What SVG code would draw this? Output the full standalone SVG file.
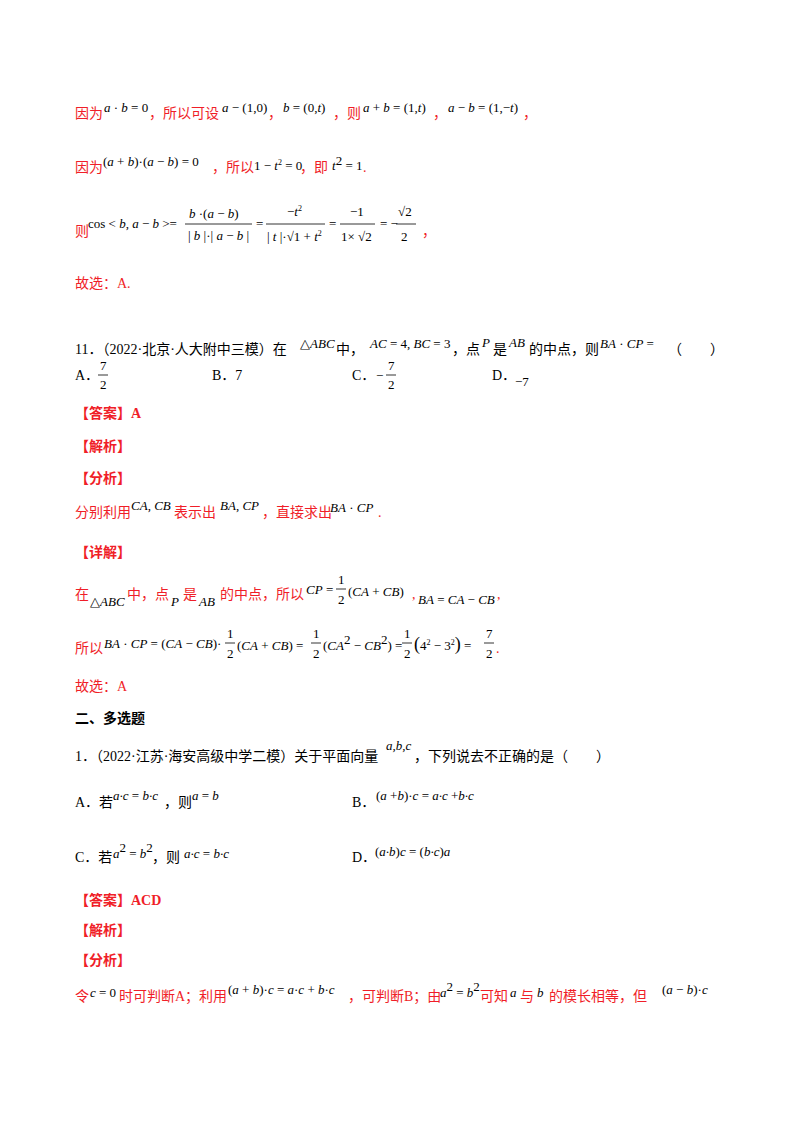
<svg xmlns="http://www.w3.org/2000/svg" width="800" height="1132" viewBox="0 0 800 1132">
<style>
.r{fill:#f01e28;font-family:"Liberation Serif","Noto Sans CJK SC",serif;font-size:14px}
.k{fill:#000;font-family:"Liberation Serif","Noto Sans CJK SC",serif;font-size:14px}
.m{fill:#000;font-family:"Liberation Serif",serif;font-size:13px;font-style:italic}
.n{fill:#000;font-family:"Liberation Serif",serif;font-size:13px;font-style:normal}
.b{font-weight:bold}
line{stroke:#000;stroke-width:0.8}
</style>
<rect width="800" height="1132" fill="#fff"/>
<g id="l1">
<text x="75" y="118" class="r">因为</text>
<text x="104" y="112" class="m">a<tspan class="n"> · </tspan>b<tspan class="n"> = 0</tspan></text>
<text x="149" y="118" class="r">，所以可设</text>
<text x="222" y="112" class="m">a<tspan class="n"> − (1,0)</tspan></text>
<text x="268" y="118" class="r">，</text>
<text x="283" y="112" class="m">b<tspan class="n"> = (0,</tspan>t<tspan class="n">)</tspan></text>
<text x="333" y="118" class="r">，则</text>
<text x="363" y="112" class="m">a<tspan class="n"> + </tspan>b<tspan class="n"> = (1,</tspan>t<tspan class="n">)</tspan></text>
<text x="433" y="118" class="r">，</text>
<text x="448" y="112" class="m">a<tspan class="n"> − </tspan>b<tspan class="n"> = (1,−</tspan>t<tspan class="n">)</tspan></text>
<text x="523" y="118" class="r">，</text>
</g>
<g id="l2">
<text x="75" y="172" class="r">因为</text>
<text x="103" y="166" class="m"><tspan class="n" font-size="17">(</tspan>a<tspan class="n"> + </tspan>b<tspan class="n" font-size="17">)</tspan><tspan class="n">·</tspan><tspan class="n" font-size="17">(</tspan>a<tspan class="n"> − </tspan>b<tspan class="n" font-size="17">)</tspan><tspan class="n"> = 0</tspan></text>
<text x="212" y="172" class="r">，所以</text>
<text x="254" y="170" class="n">1 − <tspan class="m">t</tspan><tspan font-size="8" dy="-5">2</tspan><tspan dy="5"> = 0</tspan></text>
<text x="300" y="172" class="r">，即</text>
<text x="332" y="170" class="m">t<tspan class="n" font-size="8" dy="-5">2</tspan><tspan class="n" dy="5"> = 1</tspan></text>
<text x="363" y="172" class="r">.</text>
</g>
<g id="l3">
<text x="75" y="236" class="r">则</text>
<text x="88" y="228" class="n">cos &lt; <tspan class="m">b</tspan>, <tspan class="m">a</tspan> − <tspan class="m">b</tspan> &gt;=</text>
<text x="189" y="218" class="m">b<tspan class="n"> ·(</tspan>a<tspan class="n"> − </tspan>b<tspan class="n">)</tspan></text>
<line x1="185" y1="224" x2="252" y2="224"/>
<text x="188" y="240" class="n">| <tspan class="m">b</tspan> |·| <tspan class="m">a</tspan> − <tspan class="m">b</tspan> |</text>
<text x="256" y="228" class="n">=</text>
<text x="287" y="216" class="n">−<tspan class="m">t</tspan><tspan font-size="8" dy="-5">2</tspan></text>
<line x1="266" y1="224" x2="325" y2="224"/>
<text x="267" y="241" class="n">| <tspan class="m">t</tspan> |·√1 + <tspan class="m">t</tspan><tspan font-size="8" dy="-5">2</tspan></text>
<text x="329" y="228" class="n">=</text>
<text x="350" y="216" class="n">−1</text>
<line x1="340" y1="224" x2="375" y2="224"/>
<text x="341" y="241" class="n">1× √2</text>
<text x="380" y="228" class="n">= −</text>
<text x="398" y="216" class="n">√2</text>
<line x1="396" y1="224" x2="416" y2="224"/>
<text x="401" y="241" class="n">2</text>
<text x="422" y="236" class="r">，</text>
</g>
<text x="75" y="288" class="r">故选：A.</text>
<g id="q11">
<text x="75" y="354" class="k">11．（2022·北京·人大附中三模）在</text>
<text x="300" y="348" class="m"><tspan class="n" font-size="8">△</tspan>ABC</text>
<text x="336" y="354" class="k">中，</text>
<text x="370" y="348" class="m">AC<tspan class="n"> = 4, </tspan>BC<tspan class="n"> = 3</tspan></text>
<text x="452" y="354" class="k">，点</text>
<text x="482" y="347" class="m">P</text>
<text x="493" y="354" class="k">是</text>
<text x="509" y="347" class="m">AB</text>
<text x="529" y="354" class="k">的中点，则</text>
<text x="600" y="348" class="m">BA<tspan class="n"> · </tspan>CP<tspan class="n"> =</tspan></text>
<text x="668" y="354" class="k">（　　）</text>
<text x="75" y="380" class="k">A．</text>
<text x="100" y="370" class="n">7</text><line x1="98" y1="375" x2="108" y2="375"/><text x="100" y="389" class="n">2</text>
<text x="212" y="380" class="k">B．7</text>
<text x="352" y="380" class="k">C．</text>
<text x="376" y="380" class="n">−</text>
<text x="388" y="370" class="n">7</text><line x1="386" y1="375" x2="396" y2="375"/><text x="388" y="389" class="n">2</text>
<text x="492" y="380" class="k">D．</text>
<text x="515" y="386" class="n">−7</text>
</g>
<text x="75" y="418" class="r b">【答案】A</text>
<text x="75" y="451" class="r b">【解析】</text>
<text x="75" y="483" class="r b">【分析】</text>
<g id="fx">
<text x="75" y="517" class="r">分别利用</text>
<text x="131" y="510" class="m">CA<tspan class="n">, </tspan>CB</text>
<text x="174" y="517" class="r">表示出</text>
<text x="220" y="510" class="m">BA<tspan class="n">, </tspan>CP</text>
<text x="262" y="517" class="r">，直接求出</text>
<text x="330" y="512" class="m">BA<tspan class="n"> · </tspan>CP</text>
<text x="378" y="517" class="r">.</text>
</g>
<text x="75" y="557" class="r b">【详解】</text>
<g id="xj1">
<text x="75" y="599" class="r">在</text>
<text x="90" y="606" class="m"><tspan class="n" font-size="8">△</tspan>ABC</text>
<text x="127" y="599" class="r">中，点</text>
<text x="171" y="606" class="m">P</text>
<text x="183" y="599" class="r">是</text>
<text x="199" y="606" class="m">AB</text>
<text x="220" y="599" class="r">的中点，所以</text>
<text x="306" y="594" class="m">CP<tspan class="n"> =</tspan></text>
<text x="338" y="584" class="n">1</text><line x1="336" y1="589" x2="346" y2="589"/><text x="338" y="604" class="n">2</text>
<text x="348" y="596" class="m"><tspan class="n" font-size="18">(</tspan>CA<tspan class="n"> + </tspan>CB<tspan class="n" font-size="18">)</tspan></text>
<text x="412" y="599" class="r">,</text>
<text x="418" y="604" class="m">BA<tspan class="n"> = </tspan>CA<tspan class="n"> − </tspan>CB</text>
<text x="497" y="599" class="r">,</text>
</g>
<g id="xj2">
<text x="75" y="653" class="r">所以</text>
<text x="104" y="648" class="m">BA<tspan class="n"> · </tspan>CP<tspan class="n"> = </tspan><tspan class="n" font-size="18">(</tspan>CA<tspan class="n"> − </tspan>CB<tspan class="n" font-size="18">)</tspan><tspan class="n">·</tspan></text>
<text x="227" y="638" class="n">1</text><line x1="225" y1="643" x2="235" y2="643"/><text x="227" y="658" class="n">2</text>
<text x="237" y="650" class="m"><tspan class="n" font-size="18">(</tspan>CA<tspan class="n"> + </tspan>CB<tspan class="n" font-size="18">)</tspan><tspan class="n"> =</tspan></text>
<text x="313" y="638" class="n">1</text><line x1="311" y1="643" x2="321" y2="643"/><text x="313" y="658" class="n">2</text>
<text x="323" y="650" class="m"><tspan class="n" font-size="18">(</tspan>CA<tspan class="n" font-size="8" dy="-6">2</tspan><tspan class="n" dy="6"> − </tspan>CB<tspan class="n" font-size="8" dy="-6">2</tspan><tspan class="n" font-size="18" dy="6">)</tspan><tspan class="n"> =</tspan></text>
<text x="404" y="638" class="n">1</text><line x1="402" y1="643" x2="412" y2="643"/><text x="404" y="658" class="n">2</text>
<text x="414" y="650" class="n"><tspan font-size="18">(</tspan>4<tspan font-size="8" dy="-5">2</tspan><tspan dy="5"> − 3</tspan><tspan font-size="8" dy="-5">2</tspan><tspan font-size="18" dy="5">)</tspan> =</text>
<text x="486" y="638" class="n">7</text><line x1="484" y1="643" x2="494" y2="643"/><text x="486" y="658" class="n">2</text>
<text x="496" y="653" class="r">.</text>
</g>
<text x="75" y="691" class="r">故选：A</text>
<text x="75" y="723" class="k b">二、多选题</text>
<g id="q1">
<text x="75" y="761" class="k">1．（2022·江苏·海安高级中学二模）关于平面向量</text>
<text x="386" y="750" class="m" font-size="11">a,b,c</text>
<text x="414" y="761" class="k">，下列说去不正确的是（　　）</text>
<text x="75" y="807" class="k">A．若</text>
<text x="113" y="800" class="m" font-size="12">a·c<tspan class="n"> = </tspan>b·c</text>
<text x="164" y="807" class="k">，则</text>
<text x="192" y="800" class="m" font-size="12">a<tspan class="n"> = </tspan>b</text>
<text x="352" y="807" class="k">B．</text>
<text x="376" y="800" class="m" font-size="12"><tspan class="n">(</tspan>a<tspan class="n"> +</tspan>b<tspan class="n">)·</tspan>c<tspan class="n"> = </tspan>a·c<tspan class="n"> +</tspan>b·c</text>
<text x="75" y="862" class="k">C．若</text>
<text x="113" y="858" class="m" font-size="12">a<tspan class="n" font-size="7" dy="-6">2</tspan><tspan class="n" dy="6"> = </tspan>b<tspan class="n" font-size="7" dy="-6">2</tspan></text>
<text x="152" y="862" class="k">，则</text>
<text x="184" y="858" class="m" font-size="12">a·c<tspan class="n"> = </tspan>b·c</text>
<text x="352" y="862" class="k">D．</text>
<text x="375" y="856" class="m" font-size="12"><tspan class="n" font-size="16">(</tspan>a·b<tspan class="n" font-size="16">)</tspan>c<tspan class="n"> = </tspan><tspan class="n" font-size="16">(</tspan>b·c<tspan class="n" font-size="16">)</tspan>a</text>
</g>
<text x="75" y="905" class="r b">【答案】ACD</text>
<text x="75" y="935" class="r b">【解析】</text>
<text x="75" y="965" class="r b">【分析】</text>
<g id="last">
<text x="75" y="1001" class="r">令</text>
<text x="90" y="997" class="m" font-size="12">c<tspan class="n"> = 0</tspan></text>
<text x="119" y="1001" class="r">时可判断A；利用</text>
<text x="228" y="994" class="m"><tspan class="n" font-size="17">(</tspan>a<tspan class="n"> + </tspan>b<tspan class="n" font-size="17">)</tspan><tspan class="n">·</tspan>c<tspan class="n"> = </tspan>a<tspan class="n">·</tspan>c<tspan class="n"> + </tspan>b<tspan class="n">·</tspan>c</text>
<text x="348" y="1001" class="r">，可判断B；由</text>
<text x="440" y="997" class="m" font-size="12">a<tspan class="n" font-size="7" dy="-6">2</tspan><tspan class="n" dy="6"> = </tspan>b<tspan class="n" font-size="7" dy="-6">2</tspan></text>
<text x="480" y="1001" class="r">可知</text>
<text x="510" y="997" class="m" font-size="12">a</text>
<text x="520" y="1001" class="r">与</text>
<text x="537" y="997" class="m" font-size="12">b</text>
<text x="549" y="1001" class="r">的模长相等，但</text>
<text x="662" y="994" class="m"><tspan class="n" font-size="17">(</tspan>a<tspan class="n"> − </tspan>b<tspan class="n" font-size="17">)</tspan><tspan class="n">·</tspan>c</text>
</g>
</svg>
